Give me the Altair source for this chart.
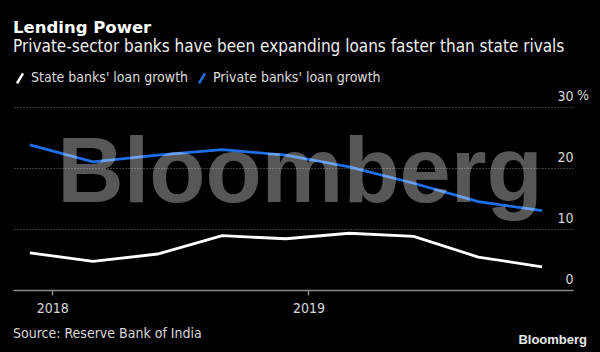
import altair as alt
import pandas as pd

dates = ["2017-11-30", "2018-02-28", "2018-05-31", "2018-08-31", "2018-11-30",
         "2019-02-28", "2019-05-31", "2019-08-31", "2019-11-30"]
state_growth = [6.1, 4.7, 5.9, 8.9, 8.4, 9.3, 8.8, 5.4, 3.8]
private_growth = [23.8, 21.0, 22.1, 23.0, 22.1, 20.2, 17.5, 14.5, 13.0]
series_names = ["State banks' loan growth", "Private banks' loan growth"]
series_colors = ["#ffffff", "#1f6fe8"]
y_ticks = [0, 10, 20, 30]

FONT = "DejaVu Sans Condensed"

rows = []
for d, v in zip(dates, state_growth):
    rows.append({"date": d, "value": v, "series": series_names[0]})
for d, v in zip(dates, private_growth):
    rows.append({"date": d, "value": v, "series": series_names[1]})
df = pd.DataFrame(rows)

x_enc = alt.X(
    "date:T",
    scale=alt.Scale(type="utc",
                    domain=[alt.DateTime(year=2017, month=11, date=6, utc=True),
                            alt.DateTime(year=2020, month=1, date=13, utc=True)]),
    axis=alt.Axis(
        values=[alt.DateTime(year=2018, month=1, date=1, utc=True),
                alt.DateTime(year=2019, month=1, date=1, utc=True)],
        labelExpr="utcFormat(datum.value, '%Y')",
        title=None, grid=False, domainColor="#8a8a8a", domainWidth=1.5,
        tickColor="#8a8a8a", tickSize=5, tickWidth=1.5,
        labelColor="#d8d8d8", labelFont=FONT, labelFontSize=14, labelPadding=6,
        labelFlush=False,
    ),
)
y_scale = alt.Scale(domain=[0, 30], nice=False)
y_enc = alt.Y(
    "value:Q", scale=y_scale,
    axis=alt.Axis(
        orient="right", values=y_ticks, title=None, domain=False, ticks=False,
        tickSize=0, labelPadding=0, labelAlign="right", labelBaseline="alphabetic",
        labelOffset=-7, labelColor="#d8d8d8", labelFont=FONT, labelFontSize=14,
        grid=True, gridColor="#777777", gridDash=[1, 2], gridWidth=1,
    ),
)

lines = alt.Chart(df).mark_line(strokeWidth=2.8).encode(
    x=x_enc,
    y=y_enc,
    color=alt.Color(
        "series:N",
        scale=alt.Scale(domain=series_names, range=series_colors),
        legend=alt.Legend(
            title=None, orient="none", legendX=0, legendY=-36, direction="horizontal",
            symbolType="M-0.6,1L0.6,-1", symbolSize=100, symbolStrokeWidth=2.6,
            labelFont=FONT, labelFontSize=14, labelColor="#dddddd", labelOffset=4,
            labelLimit=400, columnPadding=4,
        ),
    ),
)

pct = alt.Chart(pd.DataFrame({"v": [30], "t": ["%"]})).mark_text(
    align="left", baseline="alphabetic", dy=-7, font=FONT, fontSize=14, color="#d8d8d8"
).encode(x=alt.value(564), y=alt.Y("v:Q", scale=y_scale), text="t:N")

watermark = alt.Chart(pd.DataFrame({"t": ["Bloomberg"]})).mark_text(
    align="center", baseline="alphabetic", font="Liberation Sans", fontWeight="bold",
    fontSize=92, color="#ffffff", opacity=0.34
).encode(x=alt.value(287), y=alt.value(95), text="t:N")

source = alt.Chart(pd.DataFrame({"t": ["Source: Reserve Bank of India"]})).mark_text(
    align="left", baseline="middle", font=FONT, fontSize=14, color="#d8d8d8"
).encode(x=alt.value(0), y=alt.value(227), text="t:N")

logo = alt.Chart(pd.DataFrame({"t": ["Bloomberg"]})).mark_text(
    align="right", baseline="middle", font="Liberation Sans", fontWeight="bold",
    fontSize=13, color="#e8e8e8"
).encode(x=alt.value(574), y=alt.value(233), text="t:N")

chart = alt.layer(lines, pct, watermark, source, logo).properties(
    width=560, height=183,
    autosize=alt.AutoSizeParams(type="none"),
    padding={"left": 13, "top": 107, "right": 27, "bottom": 62},
    background="#000000",
    title=alt.Title(
        "Lending Power",
        subtitle="Private-sector banks have been expanding loans faster than state rivals",
        anchor="start", frame="group", font="DejaVu Sans", fontSize=16.5, fontWeight="bold",
        color="#ffffff", subtitleFont=FONT, subtitleFontSize=17, subtitleColor="#f0f0f0",
        subtitlePadding=3, offset=16,
    ),
).configure_view(stroke=None)

chart.save("out.html", embed_options={"renderer": "svg", "actions": False})
